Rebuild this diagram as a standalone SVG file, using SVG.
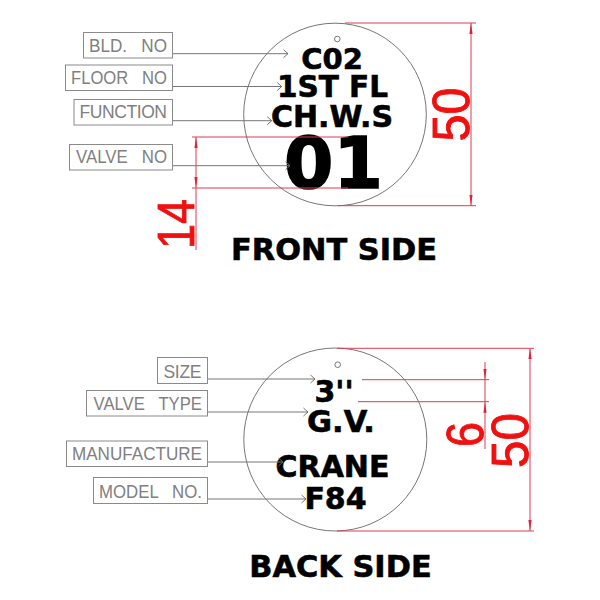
<svg xmlns="http://www.w3.org/2000/svg" width="600" height="600" viewBox="0 0 600 600">
<style>
.box{fill:#fff;stroke:#8a8a8a;stroke-width:1}
.lbl{font-family:"Liberation Sans",Arial,sans-serif;font-size:17.5px;fill:#808080;white-space:pre}
.tag{fill:none;stroke:#666;stroke-width:.9}
.big{font-family:"DejaVu Sans",Verdana,sans-serif;font-weight:700;fill:#000;stroke:#000;stroke-width:.6;text-anchor:middle}
.dimt{font-family:"Liberation Sans",Arial,sans-serif;fill:#f01010;stroke:#f01010;stroke-width:.9}
.lead{fill:none;stroke:#777;stroke-width:1;marker-end:url(#open)}
.red{fill:none;stroke:#dc3c50;stroke-width:1}
.arr{marker-start:url(#tip);marker-end:url(#tip)}
</style>
<defs>
<marker id="open" markerUnits="userSpaceOnUse" markerWidth="8" markerHeight="10" refX="6.5" refY="5" orient="auto"><path d="M2 1L6.5 5L2 9" fill="none" stroke="#666" stroke-width=".9"/></marker>
<marker id="tip" markerUnits="userSpaceOnUse" markerWidth="12" markerHeight="6" refX="11" refY="3" orient="auto-start-reverse"><path d="M0 1.4L11 3L0 4.6Z" fill="#e0203a"/></marker>
</defs>
<g id="front-tag"><circle class="tag" cx="335" cy="114.5" r="91.3"/><circle class="tag" cx="337.3" cy="39" r="2.8"/></g>
<g id="back-tag"><circle class="tag" cx="335.3" cy="439.5" r="91.5"/><circle class="tag" cx="337.7" cy="364.7" r="2.8"/></g>
<g id="front-text">
<text class="big" x="332" y="69.3" font-size="29">C02</text>
<text class="big" x="332.5" y="97" font-size="29.5">1ST FL</text>
<text class="big" x="332" y="126.7" font-size="30">CH.W.S</text>
<text class="big" x="333.5" y="188" font-size="71" style="stroke-width:1.6">01</text>
<text class="big" x="334" y="260" font-size="30.4">FRONT SIDE</text>
</g>
<g id="back-text">
<text class="big" x="334" y="401.6" font-size="30">3''</text>
<text class="big" x="341" y="431.7" font-size="30.5">G.V.</text>
<text class="big" x="332.5" y="476.7" font-size="30">CRANE</text>
<text class="big" x="335.5" y="509" font-size="30">F84</text>
<text class="big" x="340.5" y="577" font-size="30.4">BACK SIDE</text>
</g>
<g id="connectors">
<path class="lead" d="M172.7 53.7H288"/><path class="lead" d="M172.7 86.5H281.7"/><path class="lead" d="M172.7 120.7H271.7"/><path class="lead" d="M172.7 165.7H290"/>
<path class="lead" d="M207.5 379H315"/><path class="lead" d="M207.5 412H308"/><path class="lead" d="M207.5 462H283"/><path class="lead" d="M207.5 499H306"/>
<path class="red" d="M192 137H348M192 188H348M345 23H476M338 205.7H476"/>
<path class="red arr" d="M196 137V188"/><path class="red" d="M196 188V250"/>
<path class="red arr" d="M471 23V205.7"/>
<path class="red" d="M337 348.3H534M337 531H534M362 379.7H489M358 401.7H489"/>
<path class="red arr" d="M530 348.3V531"/>
<path class="red" d="M485 362V379.7" marker-end="url(#tip)"/><path class="red" d="M485 379.7V401.7"/><path class="red" d="M485 449V401.7" marker-end="url(#tip)"/>
</g>
<g id="bld-no"><rect class="box" x="83.5" y="32.5" width="89" height="25.5"/><text class="lbl" x="89" y="51.7" textLength="78" lengthAdjust="spacingAndGlyphs">BLD.   NO</text></g>
<g id="floor-no"><rect class="box" x="65.5" y="65" width="107" height="25.5"/><text class="lbl" x="71" y="84" textLength="96" lengthAdjust="spacingAndGlyphs">FLOOR   NO</text></g>
<g id="function"><rect class="box" x="74" y="99.5" width="98.5" height="25.5"/><text class="lbl" x="79.5" y="118" textLength="87.5" lengthAdjust="spacing">FUNCTION</text></g>
<g id="valve-no"><rect class="box" x="69.5" y="144.5" width="103" height="25.5"/><text class="lbl" x="76" y="163" textLength="91" lengthAdjust="spacingAndGlyphs">VALVE   NO</text></g>
<g id="size"><rect class="box" x="157.5" y="357.5" width="50" height="26"/><text class="lbl" x="163.5" y="377.7" textLength="38" lengthAdjust="spacing">SIZE</text></g>
<g id="valve-type"><rect class="box" x="86.5" y="390.5" width="121" height="25.5"/><text class="lbl" x="93.5" y="410" textLength="108.5" lengthAdjust="spacingAndGlyphs">VALVE   TYPE</text></g>
<g id="manufacture"><rect class="box" x="66.5" y="441" width="141" height="25.5"/><text class="lbl" x="72" y="460" textLength="130" lengthAdjust="spacingAndGlyphs">MANUFACTURE</text></g>
<g id="model-no"><rect class="box" x="93.5" y="477.5" width="114" height="26"/><text class="lbl" x="99" y="497.7" textLength="103" lengthAdjust="spacingAndGlyphs">MODEL   NO.</text></g>
<g id="dims">
<text class="dimt" transform="translate(194 249) rotate(-90)" font-size="52" textLength="50" lengthAdjust="spacingAndGlyphs">14</text>
<text class="dimt" transform="translate(469 141.5) rotate(-90)" font-size="52" textLength="54" lengthAdjust="spacingAndGlyphs">50</text>
<text class="dimt" transform="translate(528 468) rotate(-90)" font-size="52" textLength="55" lengthAdjust="spacingAndGlyphs">50</text>
<text class="dimt" transform="translate(482.5 447) rotate(-90)" font-size="52" textLength="25" lengthAdjust="spacingAndGlyphs">6</text>
</g>
</svg>
